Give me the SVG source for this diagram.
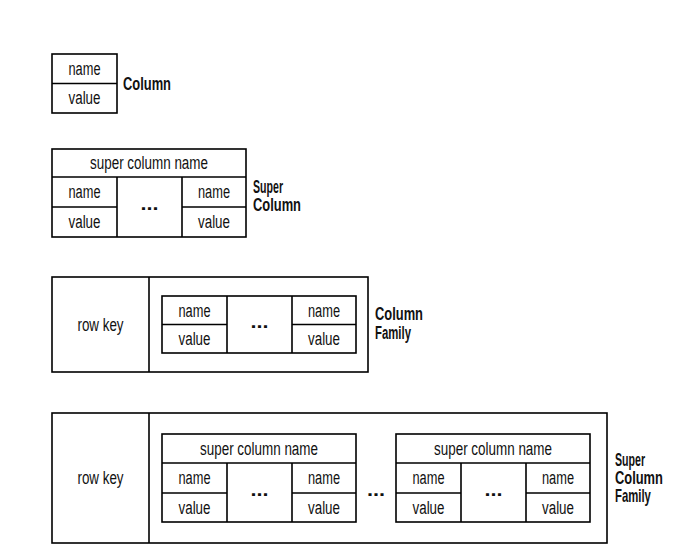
<svg xmlns="http://www.w3.org/2000/svg" width="673" height="551" viewBox="0 0 673 551">
<style>
.b{fill:#fff;stroke:#000;stroke-width:1.6}
.l{stroke:#000;stroke-width:1.6;fill:none}
text{font-family:"Liberation Sans",Arial,sans-serif;font-size:18px;fill:#111}
.c{text-anchor:middle}
.h{font-weight:bold}
</style>
<rect width="673" height="551" fill="#fff"/>
<g id="column">
<rect class="b" x="52" y="54" width="65" height="59"/>
<line class="l" x1="52" y1="83.5" x2="117" y2="83.5"/>
<text class="c" x="84.5" y="74.5" textLength="32" lengthAdjust="spacingAndGlyphs">name</text>
<text class="c" x="84.5" y="104" textLength="32" lengthAdjust="spacingAndGlyphs">value</text>
<text class="h" x="123" y="90" textLength="48" lengthAdjust="spacingAndGlyphs">Column</text>
</g>
<g id="super-column">
<rect class="b" x="52" y="149" width="194" height="88"/>
<path class="l" d="M52 177H246M117 177V237M182 177V237M52 207H117M182 207H246"/>
<text class="c" x="149" y="169" textLength="118" lengthAdjust="spacingAndGlyphs">super column name</text>
<text class="c" x="84.5" y="198" textLength="32" lengthAdjust="spacingAndGlyphs">name</text>
<text class="c" x="84.5" y="228" textLength="32" lengthAdjust="spacingAndGlyphs">value</text>
<text class="c" x="214" y="198" textLength="32" lengthAdjust="spacingAndGlyphs">name</text>
<text class="c" x="214" y="228" textLength="32" lengthAdjust="spacingAndGlyphs">value</text>
<text class="c h" x="149.5" y="210" textLength="18" lengthAdjust="spacingAndGlyphs">...</text>
<text class="h" x="253" y="193" textLength="30" lengthAdjust="spacingAndGlyphs">Super</text>
<text class="h" x="253" y="211" textLength="48" lengthAdjust="spacingAndGlyphs">Column</text>
</g>
<g id="column-family">
<rect class="b" x="52" y="277" width="316" height="95"/>
<line class="l" x1="149" y1="277" x2="149" y2="372"/>
<text class="c" x="100.5" y="331" textLength="46" lengthAdjust="spacingAndGlyphs">row key</text>
<rect class="b" x="162" y="296" width="194" height="57"/>
<path class="l" d="M227 296V353M292 296V353M162 324.5H227M292 324.5H356"/>
<text class="c" x="194.5" y="316.5" textLength="32" lengthAdjust="spacingAndGlyphs">name</text>
<text class="c" x="194.5" y="345" textLength="32" lengthAdjust="spacingAndGlyphs">value</text>
<text class="c" x="324" y="316.5" textLength="32" lengthAdjust="spacingAndGlyphs">name</text>
<text class="c" x="324" y="345" textLength="32" lengthAdjust="spacingAndGlyphs">value</text>
<text class="c h" x="259.5" y="327.5" textLength="18" lengthAdjust="spacingAndGlyphs">...</text>
<text class="h" x="375" y="320" textLength="48" lengthAdjust="spacingAndGlyphs">Column</text>
<text class="h" x="375" y="339" textLength="36" lengthAdjust="spacingAndGlyphs">Family</text>
</g>
<g id="super-column-family">
<rect class="b" x="52" y="413" width="555" height="130"/>
<line class="l" x1="149" y1="413" x2="149" y2="543"/>
<text class="c" x="100.5" y="484" textLength="46" lengthAdjust="spacingAndGlyphs">row key</text>
<rect class="b" x="162" y="434" width="194" height="88"/>
<path class="l" d="M162 463H356M227 463V522M292 463V522M162 493H227M292 493H356"/>
<text class="c" x="259" y="454.5" textLength="118" lengthAdjust="spacingAndGlyphs">super column name</text>
<text class="c" x="194.5" y="484" textLength="32" lengthAdjust="spacingAndGlyphs">name</text>
<text class="c" x="194.5" y="513.5" textLength="32" lengthAdjust="spacingAndGlyphs">value</text>
<text class="c" x="324" y="484" textLength="32" lengthAdjust="spacingAndGlyphs">name</text>
<text class="c" x="324" y="513.5" textLength="32" lengthAdjust="spacingAndGlyphs">value</text>
<text class="c h" x="259.5" y="496" textLength="18" lengthAdjust="spacingAndGlyphs">...</text>
<text class="c h" x="376" y="496" textLength="18" lengthAdjust="spacingAndGlyphs">...</text>
<rect class="b" x="396" y="434" width="194" height="88"/>
<path class="l" d="M396 463H590M461 463V522M526 463V522M396 493H461M526 493H590"/>
<text class="c" x="493" y="454.5" textLength="118" lengthAdjust="spacingAndGlyphs">super column name</text>
<text class="c" x="428.5" y="484" textLength="32" lengthAdjust="spacingAndGlyphs">name</text>
<text class="c" x="428.5" y="513.5" textLength="32" lengthAdjust="spacingAndGlyphs">value</text>
<text class="c" x="558" y="484" textLength="32" lengthAdjust="spacingAndGlyphs">name</text>
<text class="c" x="558" y="513.5" textLength="32" lengthAdjust="spacingAndGlyphs">value</text>
<text class="c h" x="493.5" y="496" textLength="18" lengthAdjust="spacingAndGlyphs">...</text>
<text class="h" transform="translate(615 466) scale(0.59 1)">Super</text>
<text class="h" transform="translate(615 484) scale(0.716 1)">Column</text>
<text class="h" transform="translate(615 502) scale(0.63 1)">Family</text>
</g>
</svg>
